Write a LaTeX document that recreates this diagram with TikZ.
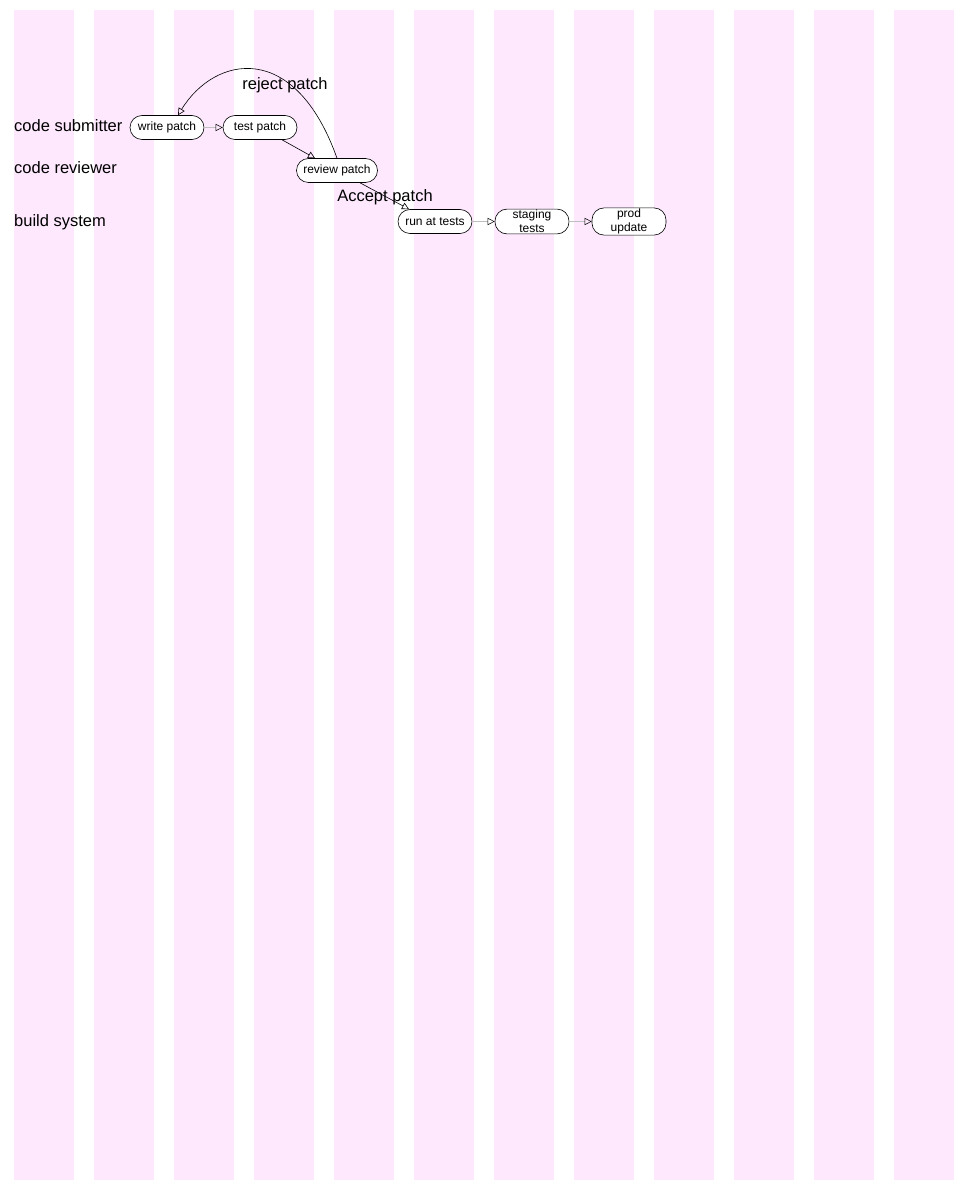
\documentclass[tikz,border=0pt]{standalone}
\usepackage{fontspec}
\setmainfont{Liberation Sans}
\usetikzlibrary{arrows.meta}
\definecolor{lanepink}{RGB}{253,232,253}
\begin{document}
\begin{tikzpicture}[x=1pt,y=-1pt,
  lane/.style={fill=lanepink,draw=none},
  lanelabel/.style={anchor=west,inner sep=0pt,font=\fontsize{16.5}{19}\selectfont},
  task/.style={draw=black,line width=0.6pt,fill=white,rounded corners=12pt,
    minimum width=74pt,minimum height=24pt,inner sep=1pt,align=center,
    font=\fontsize{12}{14}\selectfont},
  flow/.style={line width=0.6pt,-{Triangle[open,length=7pt,width=7pt]}},
  hflow/.style={draw=black!25,line width=0.5pt,-{Triangle[open,length=7pt,width=7pt,color=black]}},
  elabel/.style={inner sep=0pt,font=\fontsize{16.5}{19}\selectfont}]
\useasboundingbox (0,0) rectangle (963,1190);
\fill[white] (0,0) rectangle (963,1190);
\foreach \k in {0,...,11}{
  \fill[lane] (14+80*\k,10) rectangle (74+80*\k,1180);
}
\node[lanelabel] (l1) at (14,126) {code submitter};
\node[lanelabel] (l2) at (14,168) {code reviewer};
\node[lanelabel] (l3) at (14,222) {build system};

\node[task] (wp) at (167,127.5) {write patch};
\node[task] (tp) at (260,127.5) {test patch};
\node[task,minimum width=81pt] (rp) at (337,170.5) {review patch};
\node[task] (rt) at (435,221.5) {run at tests};
\node[task] (st) at (532,221.5) {staging\\tests};
\node[task] (pu) at (629,221.5) {prod\\update};

\draw[hflow] (wp.east) -- (tp.west);
\draw[hflow] (rt.east) -- (st.west);
\draw[hflow] (st.east) -- (pu.west);
\draw[flow] ([xshift=22pt]tp.south) -- ([xshift=-22pt]rp.north);
\draw[flow] ([xshift=23pt]rp.south) -- ([xshift=-26pt]rt.north);
\draw[flow] (rp.north) .. controls (295,40) and (215,55) .. ([xshift=11pt]wp.north);

\node[elabel] (rj) at (285,85) {reject patch};
\node[elabel] (ac) at (385,197) {Accept patch};
\end{tikzpicture}
\end{document}
